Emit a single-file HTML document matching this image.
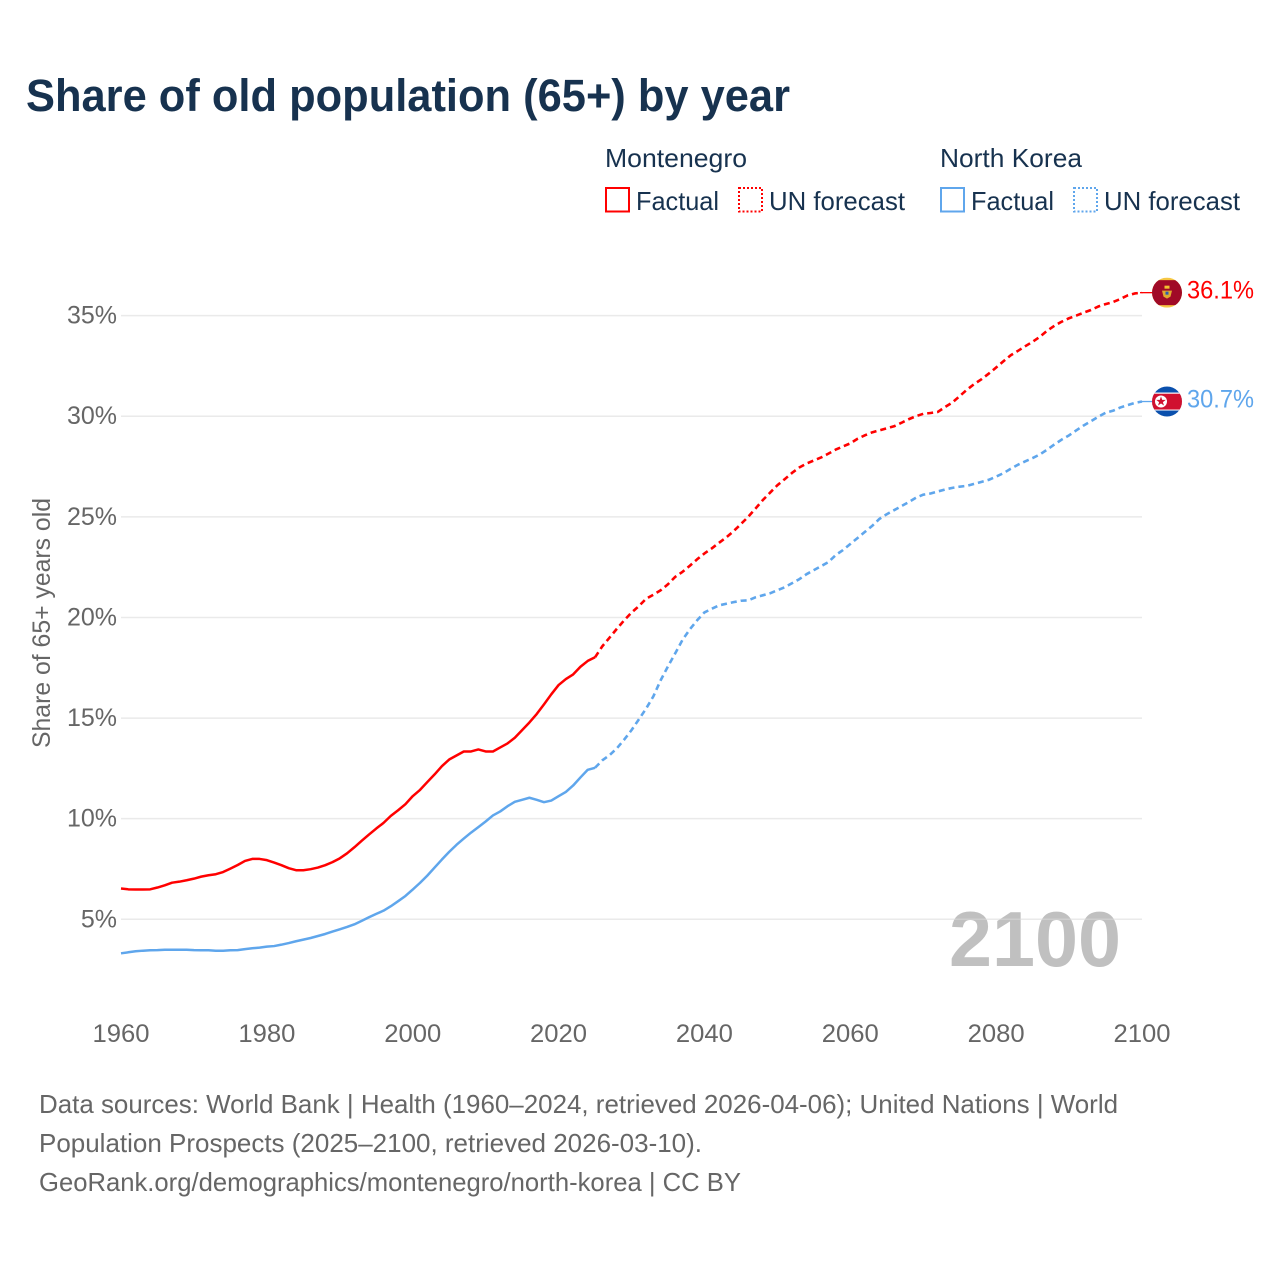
<!DOCTYPE html>
<html lang="en">
<head>
<meta charset="utf-8">
<title>Share of old population (65+) by year</title>
<style>
html,body{margin:0;padding:0;background:#fff;}
svg{display:block;font-family:"Liberation Sans",sans-serif;}
</style>
</head>
<body>
<svg id="chart" xmlns="http://www.w3.org/2000/svg" width="1280" height="1280" viewBox="0 0 1280 1280">
  <rect width="1280" height="1280" fill="#ffffff"/>
  <text x="26" y="111" font-size="45" font-weight="700" fill="#17324f" textLength="764" lengthAdjust="spacingAndGlyphs">Share of old population (65+) by year</text>

  <g font-size="26" fill="#17324f">
    <text x="605" y="167" textLength="142" lengthAdjust="spacingAndGlyphs">Montenegro</text>
    <rect x="606" y="188" width="23" height="23.5" fill="none" stroke="#ff0000" stroke-width="2"/>
    <text x="636" y="210" textLength="83" lengthAdjust="spacingAndGlyphs">Factual</text>
    <rect x="739" y="188" width="23" height="23.5" fill="none" stroke="#ff0000" stroke-width="2" stroke-dasharray="2 2"/>
    <text x="769" y="210" textLength="136" lengthAdjust="spacingAndGlyphs">UN forecast</text>
    <text x="940" y="167" textLength="142" lengthAdjust="spacingAndGlyphs">North Korea</text>
    <rect x="941" y="188" width="23" height="23.5" fill="none" stroke="#5fa6ec" stroke-width="2"/>
    <text x="971" y="210" textLength="83" lengthAdjust="spacingAndGlyphs">Factual</text>
    <rect x="1074" y="188" width="23" height="23.5" fill="none" stroke="#5fa6ec" stroke-width="2" stroke-dasharray="2 2"/>
    <text x="1104" y="210" textLength="136" lengthAdjust="spacingAndGlyphs">UN forecast</text>
  </g>

  <text transform="translate(50,623) rotate(-90)" text-anchor="middle" font-size="25" fill="#666666" textLength="250" lengthAdjust="spacingAndGlyphs">Share of 65+ years old</text>

  <text x="949" y="966" font-size="78" font-weight="700" fill="#c0c0c0" textLength="172" lengthAdjust="spacingAndGlyphs">2100</text>

  <g id="grid"></g>
  <g id="y-ticks"></g>
  <g id="x-ticks"></g>

  <g id="series"></g>

  <defs>
    <clipPath id="flag-clip"><circle cx="0" cy="0" r="15"/></clipPath>
  </defs>

  <g id="flag-montenegro">
    <g clip-path="url(#flag-clip)">
      <rect x="-15" y="-15" width="30" height="30" fill="#f6c744"/>
      <rect x="-15" y="-12.5" width="30" height="25" fill="#a00a27"/>
      <rect x="-2.5" y="-7" width="5" height="3" fill="#f2c230"/>
      <path d="M-5 -2 L5 -2 L3.5 4 L0 6 L-3.5 4 Z" fill="#e0a92e"/>
      <rect x="-1.5" y="-1" width="3" height="3" fill="#2a5db0"/>
    </g>
  </g>
  <g id="flag-north-korea">
    <g clip-path="url(#flag-clip)">
      <rect x="-15" y="-15" width="30" height="30" fill="#0a50ad"/>
      <rect x="-15" y="-9" width="30" height="18" fill="#ffffff"/>
      <rect x="-15" y="-7.8" width="30" height="15.8" fill="#d0102f"/>
      <circle cx="-6" cy="0" r="6" fill="#ffffff"/>
      <path d="M-6 -5 L-4.8 -1.6 L-1.2 -1.6 L-4.1 0.6 L-3 4 L-6 2 L-9 4 L-7.9 0.6 L-10.8 -1.6 L-7.2 -1.6 Z" fill="#d0102f"/>
    </g>
  </g>

  <g font-size="26" fill="#666666">
    <text x="39" y="1113" textLength="1079" lengthAdjust="spacingAndGlyphs">Data sources: World Bank | Health (1960–2024, retrieved 2026-04-06); United Nations | World</text>
    <text x="39" y="1152" textLength="663" lengthAdjust="spacingAndGlyphs">Population Prospects (2025–2100, retrieved 2026-03-10).</text>
    <text x="39" y="1191" textLength="702" lengthAdjust="spacingAndGlyphs">GeoRank.org/demographics/montenegro/north-korea | CC BY</text>
  </g>
</svg>

<script>
const years = [1960,1961,1962,1963,1964,1965,1966,1967,1968,1969,
1970,1971,1972,1973,1974,1975,1976,1977,1978,1979,
1980,1981,1982,1983,1984,1985,1986,1987,1988,1989,
1990,1991,1992,1993,1994,1995,1996,1997,1998,1999,
2000,2001,2002,2003,2004,2005,2006,2007,2008,2009,
2010,2011,2012,2013,2014,2015,2016,2017,2018,2019,
2020,2021,2022,2023,2024,2025,2026,2027,2028,2029,
2030,2031,2032,2033,2034,2035,2036,2037,2038,2039,
2040,2041,2042,2043,2044,2045,2046,2047,2048,2049,
2050,2051,2052,2053,2054,2055,2056,2057,2058,2059,
2060,2061,2062,2063,2064,2065,2066,2067,2068,2069,
2070,2071,2072,2073,2074,2075,2076,2077,2078,2079,
2080,2081,2082,2083,2084,2085,2086,2087,2088,2089,
2090,2091,2092,2093,2094,2095,2096,2097,2098,2099,2100];

const montenegroShare = [6.53,6.49,6.48,6.48,6.49,6.58,6.69,6.82,6.87,6.94,
7.02,7.12,7.19,7.24,7.35,7.52,7.70,7.90,8.00,8.00,
7.94,7.82,7.69,7.54,7.44,7.44,7.49,7.57,7.69,7.84,
8.03,8.28,8.58,8.90,9.21,9.51,9.79,10.14,10.42,10.72,
11.12,11.43,11.82,12.20,12.61,12.94,13.14,13.34,13.34,13.44,
13.34,13.34,13.54,13.74,14.02,14.40,14.78,15.20,15.68,16.18,
16.64,16.94,17.17,17.55,17.84,18.02,18.57,19.00,19.44,19.86,
20.24,20.56,20.93,21.13,21.35,21.65,22.02,22.27,22.57,22.89,
23.18,23.43,23.71,23.98,24.29,24.64,25.00,25.41,25.83,26.20,
26.57,26.87,27.18,27.45,27.65,27.80,27.95,28.14,28.34,28.50,
28.65,28.88,29.05,29.20,29.30,29.40,29.50,29.67,29.85,30.00,
30.12,30.16,30.21,30.46,30.68,31.00,31.32,31.60,31.84,32.12,
32.42,32.73,33.03,33.25,33.48,33.70,33.95,34.25,34.50,34.70,
34.87,35.00,35.15,35.28,35.45,35.57,35.67,35.82,36.00,36.10,36.14];

const northKoreaShare = [3.31,3.36,3.41,3.44,3.46,3.47,3.49,3.49,3.49,3.49,
3.47,3.46,3.46,3.44,3.44,3.46,3.47,3.52,3.56,3.59,
3.64,3.67,3.74,3.82,3.91,3.99,4.07,4.17,4.27,4.39,
4.50,4.62,4.75,4.92,5.10,5.27,5.43,5.65,5.90,6.16,
6.48,6.81,7.17,7.57,7.97,8.35,8.70,9.01,9.31,9.58,
9.86,10.16,10.36,10.62,10.84,10.94,11.04,10.94,10.82,10.90,
11.12,11.33,11.65,12.05,12.43,12.53,12.90,13.16,13.50,13.93,
14.40,14.93,15.47,16.08,16.88,17.57,18.22,18.89,19.41,19.86,
20.25,20.43,20.60,20.68,20.76,20.83,20.85,21.00,21.10,21.20,
21.35,21.50,21.70,21.90,22.15,22.35,22.55,22.75,23.10,23.35,
23.65,23.95,24.25,24.55,24.90,25.13,25.33,25.53,25.73,25.95,
26.10,26.16,26.26,26.36,26.44,26.50,26.54,26.64,26.74,26.84,
27.00,27.17,27.39,27.59,27.76,27.92,28.10,28.34,28.60,28.84,
29.05,29.30,29.54,29.75,29.97,30.17,30.27,30.43,30.55,30.66,30.73];

const lastFactualYear = 2025;
const yTickValues = [5,10,15,20,25,30,35];
const xTickValues = [1960,1980,2000,2020,2040,2060,2080,2100];

const SVG_NS = 'http://www.w3.org/2000/svg';
function xScale(year){ return 121 + (year - 1960) * (1142 - 121) / 140; }
function yScale(share){ return 919.3 - (share - 5) * (919.3 - 315.6) / 30; }

function make(tag, attrs, parent){
  const el = document.createElementNS(SVG_NS, tag);
  for (const k in attrs) el.setAttribute(k, attrs[k]);
  parent.appendChild(el);
  return el;
}

const gridLayer = document.getElementById('grid');
const yTickLayer = document.getElementById('y-ticks');
const xTickLayer = document.getElementById('x-ticks');
const seriesLayer = document.getElementById('series');
const chartRoot = document.getElementById('chart');

yTickValues.forEach(function(v){
  const line = make('line', {x1:121, x2:1142, y1:yScale(v), y2:yScale(v), stroke:'#d8d8d8', 'stroke-opacity':0.55, 'stroke-width':1.5}, gridLayer);
  
  
  const label = make('text', {x:117, y:yScale(v) + 8, 'text-anchor':'end', 'font-size':25, fill:'#666666'}, yTickLayer);
  
  
  label.textContent = v + '%';
});

xTickValues.forEach(function(v){
  const label = make('text', {x:xScale(v), y:1042, 'text-anchor':'middle', 'font-size':25, fill:'#666666', textLength:57, lengthAdjust:'spacingAndGlyphs'}, xTickLayer);
  
  
  label.textContent = String(v);
});

function pathFor(values, fromYear, toYear){
  const pts = [];
  years.forEach(function(yr, i){
    if (yr >= fromYear && yr <= toYear) pts.push(xScale(yr).toFixed(2) + ' ' + yScale(values[i]).toFixed(2));
  });
  return 'M' + pts.join('L');
}

function drawSeries(key, values, color, flagId){
  const lastYear = years[years.length - 1];
  const lastValue = values[values.length - 1];
  const lastY = yScale(lastValue);

  const factual = make('path', {d:pathFor(values, years[0], lastFactualYear), fill:'none', stroke:color, 'stroke-width':2.5, 'stroke-linejoin':'round'}, seriesLayer);
  
  

  const forecast = make('path', {d:pathFor(values, lastFactualYear, lastYear), fill:'none', stroke:color, 'stroke-width':2.6, 'stroke-dasharray':'6 4', 'stroke-linejoin':'round'}, seriesLayer);
  
  

  const connector = make('line', {x1:xScale(lastYear) - 2, x2:1153, y1:lastY, y2:lastY, stroke:color, 'stroke-width':1.3}, seriesLayer);
  
  

  document.getElementById(flagId).setAttribute('transform', 'translate(1167,' + lastY.toFixed(2) + ')');

  const label = make('text', {x:1187, y:lastY + 6, 'font-size':25, fill:color, textLength:67, lengthAdjust:'spacingAndGlyphs'}, chartRoot);
  
  
  label.textContent = lastValue.toFixed(1) + '%';
}

drawSeries('montenegro', montenegroShare, '#ff0000', 'flag-montenegro');
drawSeries('north-korea', northKoreaShare, '#5fa6ec', 'flag-north-korea');
</script>
</body>
</html>
